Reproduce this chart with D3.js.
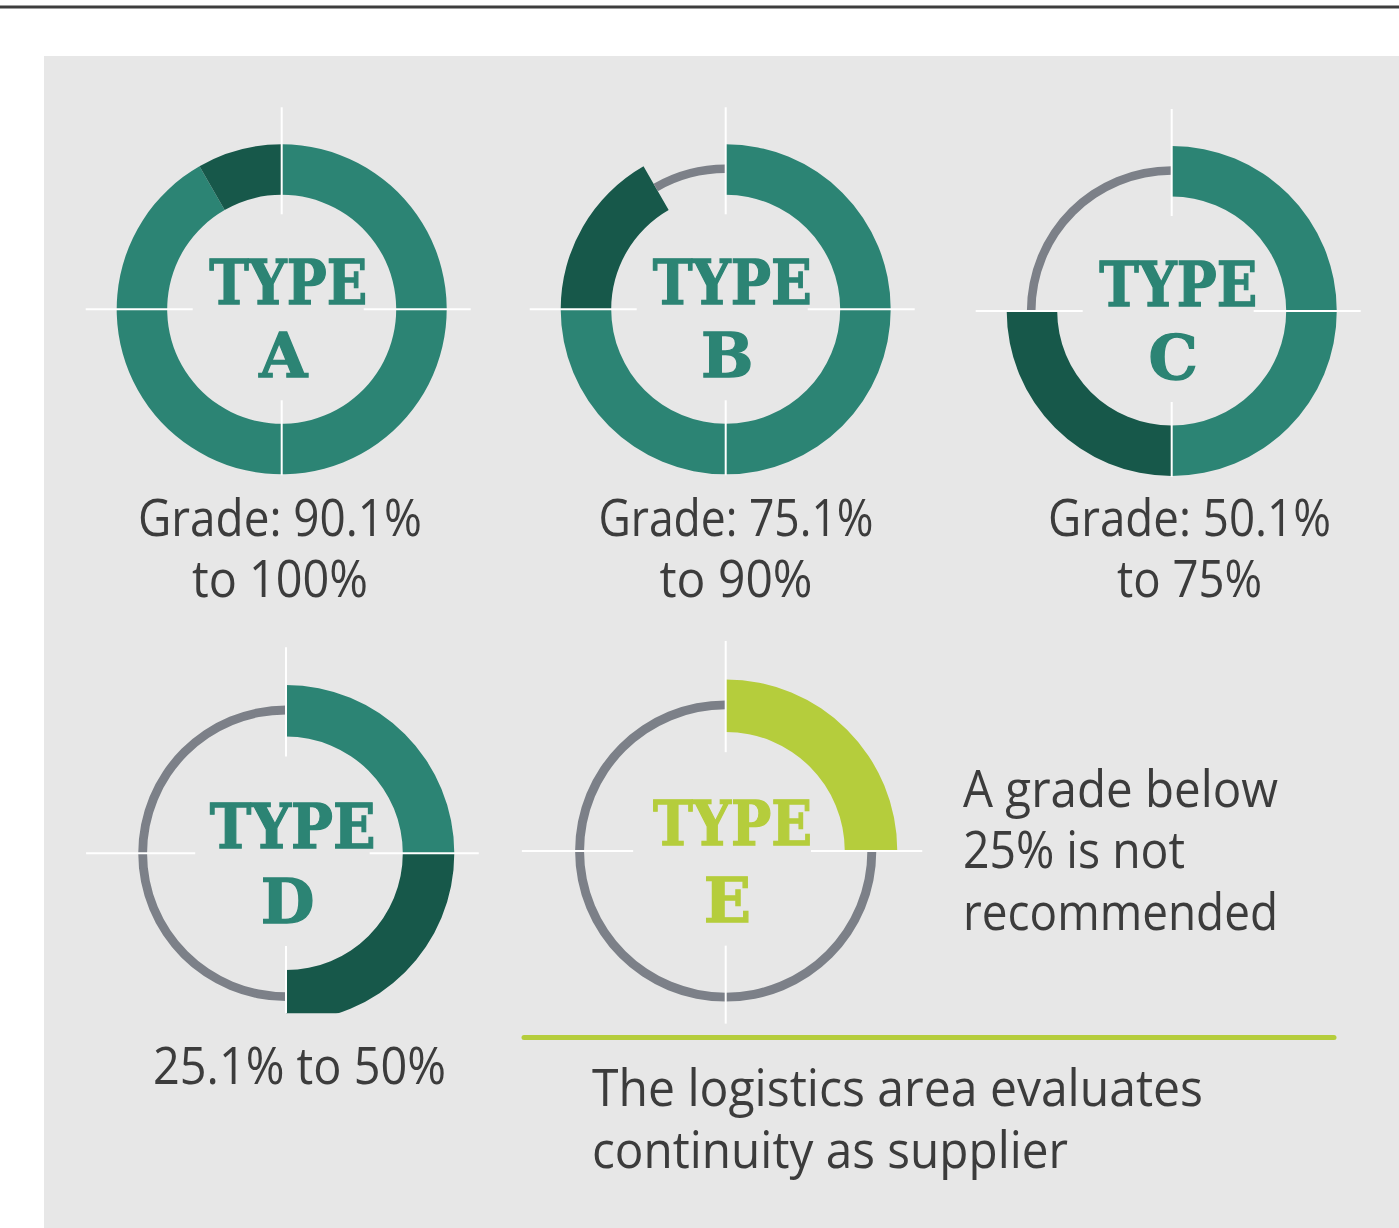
<!DOCTYPE html>
<html lang="en">
<head>
<meta charset="utf-8">
<title>Supplier grade types</title>
<style>
    body { margin: 0; background: #fff; }
    .lbl { font-family: "Open Sans", "Noto Sans", sans-serif; fill: #3c3c3c; font-size: 52px; }
    .type { font-family: "DejaVu Serif", serif; font-weight: bold; font-size: 62px; stroke-width: 1.3px; }
</style>
</head>
<body>
<script src="https://cdn.jsdelivr.net/npm/d3@7"></script>
<script>
// data
var types = ["A", "B", "C", "D", "E"];
var mainShare = [91.7, 75, 50, 25, 25];   // teal (green for E), clockwise from 12 o'clock
var darkShare = [8.3, 16.7, 25, 25, 0];
var greyShare = [0, 8.3, 25, 50, 75];
var gradeLines = [["Grade: 90.1%", "to 100%"], ["Grade: 75.1%", "to 90%"], ["Grade: 50.1%", "to 75%"], ["25.1% to 50%"], []];
var noteLines = ["A grade below", "25% is not", "recommended"];
var footLines = ["The logistics area evaluates", "continuity as supplier"];

var width = 1399, height = 1228;
var teal = "#2c8474", dark = "#17584a", grey = "#7c8088", lime = "#b5cd3c";

// layout
var layout = [
    {cx: 281.7, cy: 309.3, s: 1.00, tx: 280,   tw: [284, 176], ty: [536, 597]},
    {cx: 725.7, cy: 309.3, s: 1.00, tx: 736,   tw: [275, 153], ty: [536, 597]},
    {cx: 1171.7, cy: 311,  s: 1.00, tx: 1189.5, tw: [283, 145], ty: [536, 597]},
    {cx: 286,   cy: 853.3, s: 1.02, tx: 299.5, tw: [293],      ty: [1083.5], clip: 1013.3},
    {cx: 725.7, cy: 851,   s: 1.04, tx: 0,     tw: [],         ty: []}
];
var typeW = [158, 159, 158, 166, 159];

var svg = d3.select("body").append("svg")
    .attr("width", width)
    .attr("height", height);

svg.append("rect").attr("x", 0).attr("y", 5.5).attr("width", width).attr("height", 3).attr("fill", "#3e3e3e");
svg.append("rect").attr("x", 44).attr("y", 56).attr("width", width - 44).attr("height", height - 56).attr("fill", "#e7e7e7");

var pie = d3.pie().sort(null).value(function(d) { return d.v; });

types.forEach(function(t, i) {
    var L = layout[i], s = L.s;
    var g = svg.append("g").attr("transform", "translate(" + L.cx + "," + L.cy + ")");
    if (L.clip) {
        svg.append("clipPath").attr("id", "clip" + t)
            .append("rect").attr("x", -300).attr("y", -300).attr("width", 600).attr("height", 300 + L.clip - L.cy);
        g.attr("clip-path", "url(#clip" + t + ")");
    }
    var segs = pie([
        {k: "main", v: mainShare[i]},
        {k: "dark", v: darkShare[i]},
        {k: "grey", v: greyShare[i]}
    ]);
    var thick = d3.arc().innerRadius(114.5 * s).outerRadius(165 * s);
    var thin = d3.arc().innerRadius(136.2 * s).outerRadius(144.8 * s);
    g.selectAll("path")
        .data(segs.filter(function(d) { return d.data.v > 0; }))
        .enter().append("path")
        .attr("d", function(d) { return d.data.k == "grey" ? thin(d) : thick(d); })
        .attr("fill", function(d) {
            if (d.data.k == "grey") return grey;
            if (d.data.k == "dark") return dark;
            return t == "E" ? lime : teal;
        });

    // white crosshair
    var cross = [[0, -95, 0, -202], [0, 91, 0, 166], [-89, 0, -196, 0], [82, 0, 189, 0]];
    g.selectAll("line").data(cross).enter().append("line")
        .attr("x1", function(d) { return d[0] * s; }).attr("y1", function(d) { return d[1] * s; })
        .attr("x2", function(d) { return d[2] * s; }).attr("y2", function(d) { return d[3] * s; })
        .attr("stroke", "#fff").attr("stroke-width", 2);

    var col = t == "E" ? lime : teal;
    g.append("text").attr("class", "type").attr("fill", col).attr("stroke", col)
        .attr("x", 6.5 * s - typeW[i] / 2).attr("y", -5.5 * s)
        .attr("textLength", typeW[i]).attr("lengthAdjust", "spacingAndGlyphs")
        .text("TYPE");
    g.append("text").attr("class", "type").attr("fill", col).attr("stroke", col)
        .attr("text-anchor", "middle")
        .attr("x", 1.5 * s).attr("y", 68 * s)
        .text(t);

    gradeLines[i].forEach(function(line, j) {
        svg.append("text").attr("class", "lbl")
            .attr("x", L.tx - L.tw[j] / 2).attr("y", L.ty[j])
            .attr("textLength", L.tw[j]).attr("lengthAdjust", "spacingAndGlyphs")
            .text(line);
    });
});

// note to the right of type E
var noteW = [315, 222, 315];
noteLines.forEach(function(line, j) {
    svg.append("text").attr("class", "lbl")
        .attr("x", 963).attr("y", 806.7 + j * 61.7)
        .attr("textLength", noteW[j]).attr("lengthAdjust", "spacingAndGlyphs")
        .text(line);
});

// divider + footer
svg.append("line")
    .attr("x1", 524).attr("x2", 1334).attr("y1", 1037.5).attr("y2", 1037.5)
    .attr("stroke", lime).attr("stroke-width", 5).attr("stroke-linecap", "round");

var footW = [611, 476];
footLines.forEach(function(line, j) {
    svg.append("text").attr("class", "lbl")
        .attr("x", 592).attr("y", 1106 + j * 62.3)
        .attr("textLength", footW[j]).attr("lengthAdjust", "spacingAndGlyphs")
        .text(line);
});
</script>
</body>
</html>
